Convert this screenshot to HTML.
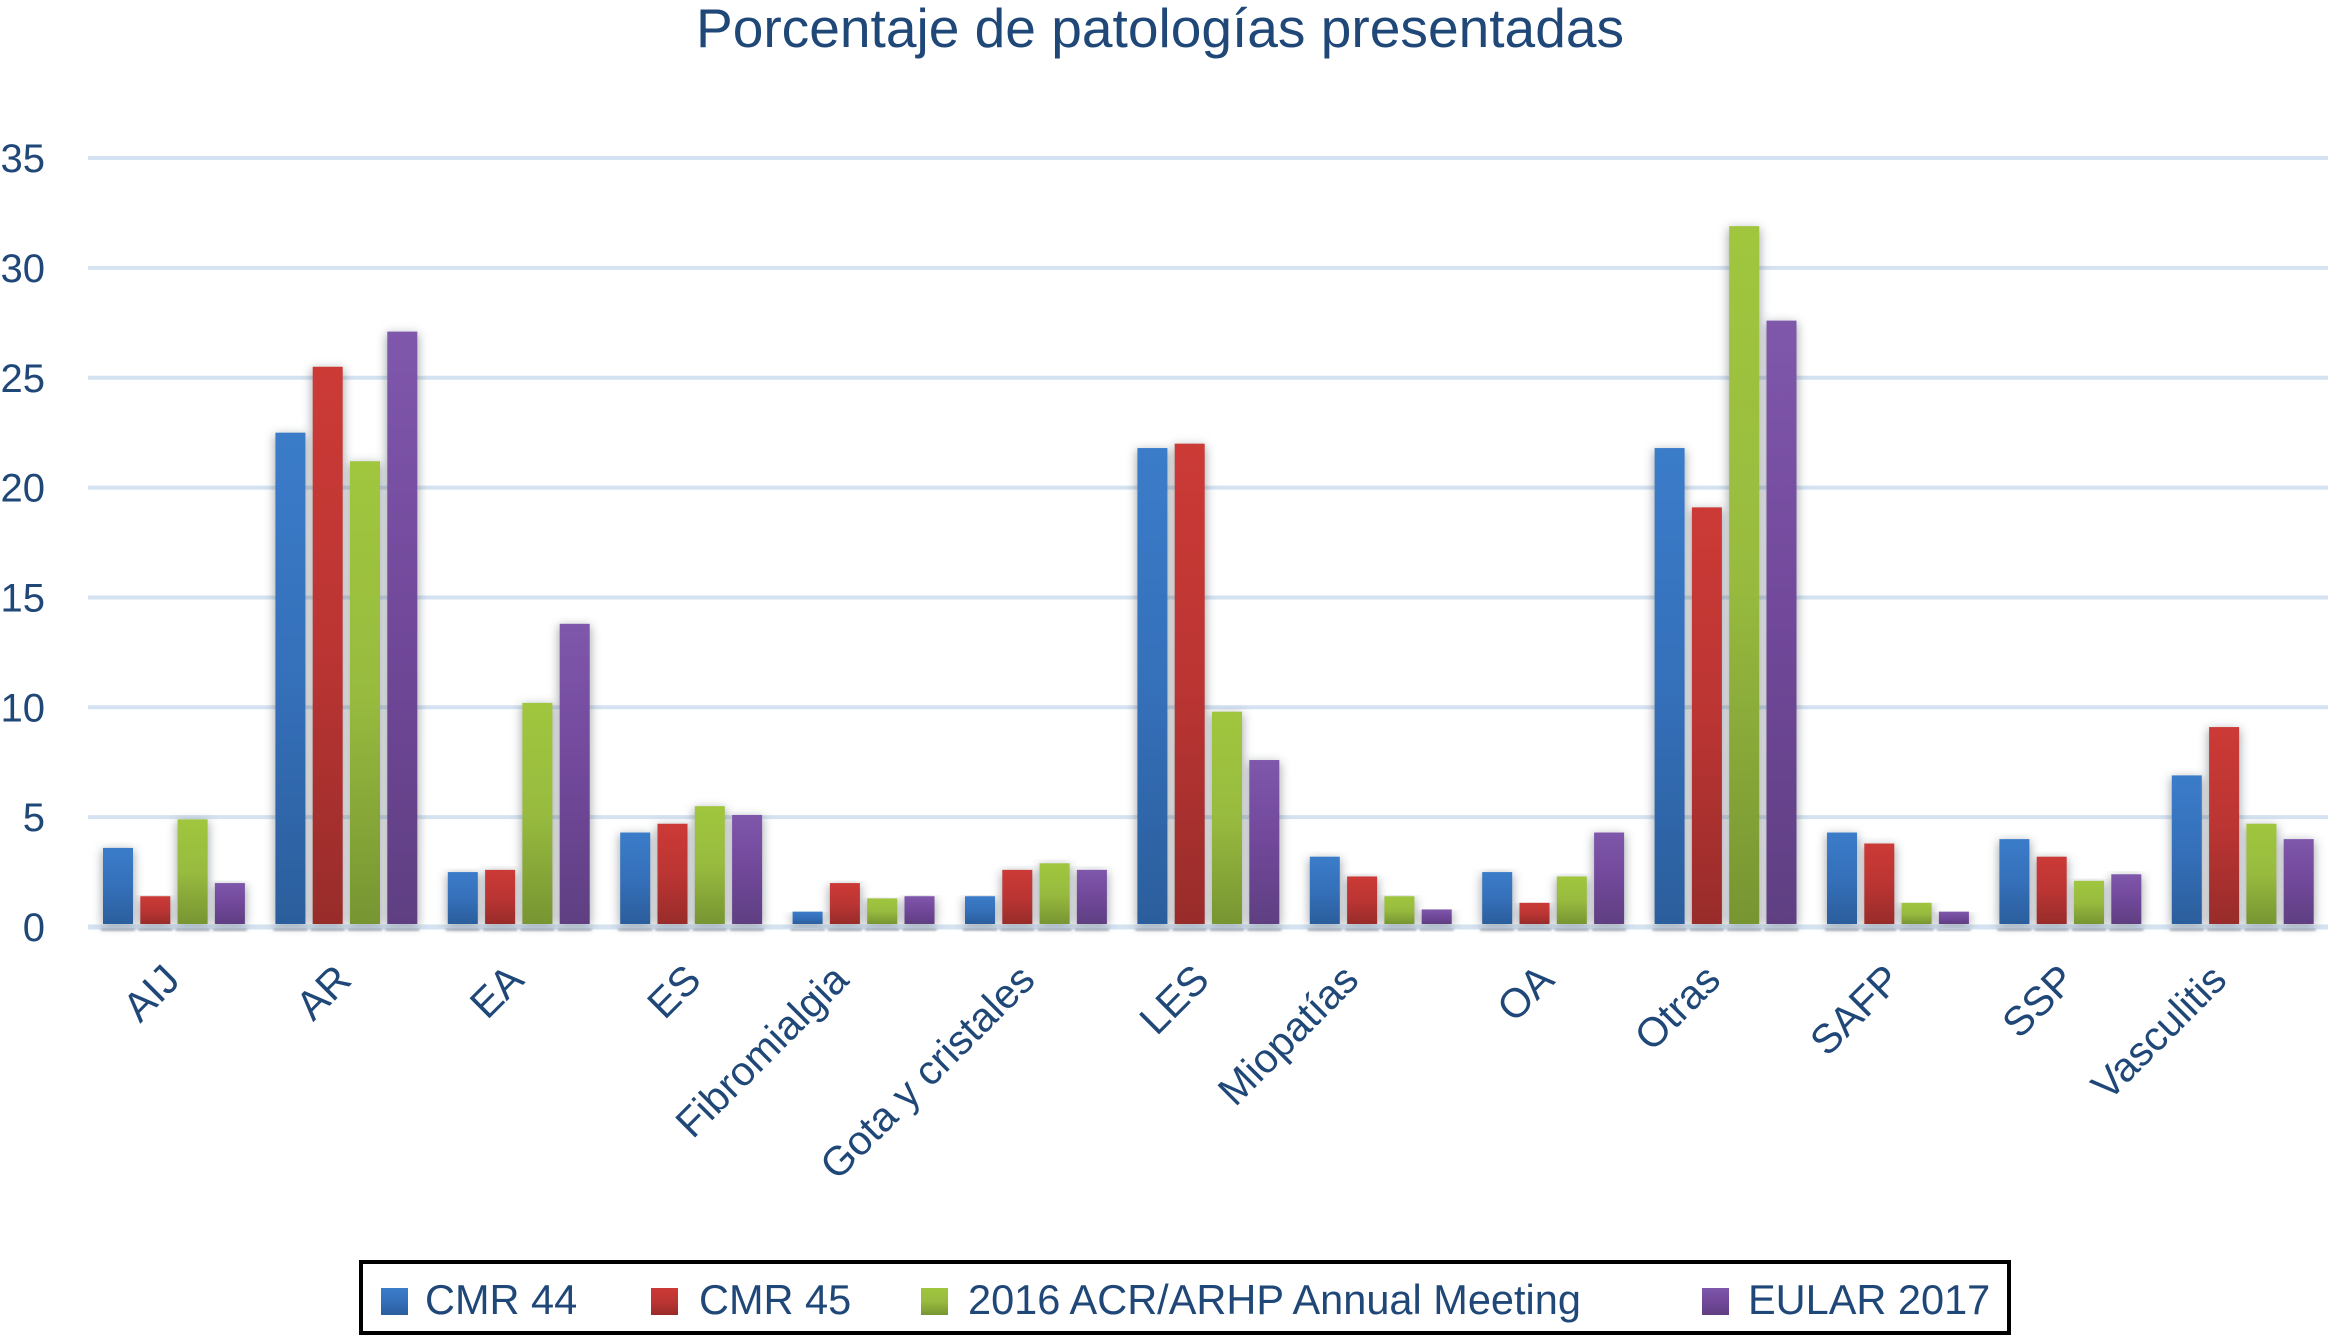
<!DOCTYPE html>
<html lang="es">
<head>
<meta charset="utf-8">
<title>Porcentaje de patologías presentadas</title>
<style>
html,body{margin:0;padding:0;background:#fff;width:2328px;height:1336px;overflow:hidden}
svg{display:block}
text{font-family:"Liberation Sans",sans-serif;fill:#1f4777}
</style>
</head>
<body>
<svg id="chart" xmlns="http://www.w3.org/2000/svg" width="2328" height="1336" viewBox="0 0 2328 1336">
  <defs>
    <linearGradient id="g0" x1="0" y1="0" x2="0" y2="1"><stop offset="0" stop-color="#3b7cc9"/><stop offset="0.5" stop-color="#3570ba"/><stop offset="1" stop-color="#2b5e9c"/></linearGradient>
    <linearGradient id="g1" x1="0" y1="0" x2="0" y2="1"><stop offset="0" stop-color="#cc3a36"/><stop offset="0.5" stop-color="#bb3533"/><stop offset="1" stop-color="#982c2a"/></linearGradient>
    <linearGradient id="g2" x1="0" y1="0" x2="0" y2="1"><stop offset="0" stop-color="#a0c63e"/><stop offset="0.5" stop-color="#98bb3f"/><stop offset="1" stop-color="#779532"/></linearGradient>
    <linearGradient id="g3" x1="0" y1="0" x2="0" y2="1"><stop offset="0" stop-color="#7f57ab"/><stop offset="0.5" stop-color="#71489a"/><stop offset="1" stop-color="#5f3f82"/></linearGradient>
    <filter id="barShadow" x="-60%" y="-10%" width="220%" height="125%"><feGaussianBlur stdDeviation="5"/></filter>
    <filter id="baseBlur" x="-10%" y="-100%" width="120%" height="300%"><feGaussianBlur stdDeviation="1"/></filter>
  </defs>
  <text x="1160" y="47" font-size="55.1" text-anchor="middle">Porcentaje de patologías presentadas</text>
  <g id="grid"></g>
  <g id="yticks"></g>
  <g id="reflections"></g>
  <g id="shadows"></g>
  <g id="bars"></g>
  <g id="xticks"></g>
  <g id="legend">
    <rect x="361" y="1262" width="1648" height="71" fill="#fff" stroke="#000" stroke-width="4"/>
  </g>
</svg>
<script>
const categories = ["AIJ","AR","EA","ES","Fibromialgia","Gota y cristales","LES","Miopatías","OA","Otras","SAFP","SSP","Vasculitis"];
const seriesNames = ["CMR 44","CMR 45","2016 ACR/ARHP Annual Meeting","EULAR 2017"];
const cmr44 = [3.6,22.5,2.5,4.3,0.7,1.4,21.8,3.2,2.5,21.8,4.3,4.0,6.9];
const cmr45 = [1.4,25.5,2.6,4.7,2.0,2.6,22.0,2.3,1.1,19.1,3.8,3.2,9.1];
const acr2016 = [4.9,21.2,10.2,5.5,1.3,2.9,9.8,1.4,2.3,31.9,1.1,2.1,4.7];
const eular2017 = [2.0,27.1,13.8,5.1,1.4,2.6,7.6,0.8,4.3,27.6,0.7,2.4,4.0];
const yTicks = [0,5,10,15,20,25,30,35];

const NS = "http://www.w3.org/2000/svg";
const allSeries = [cmr44, cmr45, acr2016, eular2017];
const seriesSlugs = ["cmr-44","cmr-45","acr-2016","eular-2017"];
const labelNudge = {"AIJ":-7,"AR":-8,"EA":-8,"ES":-3,"Fibromialgia":-28,"Gota y cristales":-14,"LES":-12,"Miopatías":-35,"OA":-12,"Otras":-18,"SAFP":-10,"SSP":-8,"Vasculitis":-29};
function yScale(v){ return 927 - v * 21.97; }
function groupX(i){ return 88 + i * 172.4; }
function barX(i,s){ return groupX(i) + 15 + s * 37.3; }
function make(tag, attrs, parent, text){
  const el = document.createElementNS(NS, tag);
  for (const k in attrs) el.setAttribute(k, attrs[k]);
  if (text !== undefined) el.textContent = text;
  parent.appendChild(el);
  return el;
}
const grid = document.getElementById("grid");
const yticks = document.getElementById("yticks");
yTicks.forEach(function(t){
  const line = make("line", {x1:88, x2:2328, y1:yScale(t), y2:yScale(t), stroke:"#d4e2f1", "stroke-width": t === 0 ? 5 : 4}, grid);
  
  
  const lab = make("text", {x:45, y:yScale(t) + 14, "font-size":40, "text-anchor":"end"}, yticks, String(t));
  
  
});
const bars = document.getElementById("bars");
const shadows = document.getElementById("shadows");
const refl = document.getElementById("reflections");
const baseY = yScale(0) - 3;
allSeries.forEach(function(vals, s){
  vals.forEach(function(v, i){
    const top = yScale(v);
    const h = Math.max(baseY - top, 0);
    const sh = make("rect", {x:barX(i,s) - 1, y:top + 2, width:32, height:h, fill:"#4e5660", opacity:0.5, filter:"url(#barShadow)"}, shadows);
    
    
    const bar = make("rect", {x:barX(i,s), y:top, width:30, height:h, fill:"url(#g" + s + ")"}, bars);
    
    
    const r = make("rect", {x:barX(i,s) - 2, y:yScale(0) + 2, width:34, height:1.6, fill:"#8d97a6", filter:"url(#baseBlur)"}, refl);
    
    
  });
});
const xticks = document.getElementById("xticks");
categories.forEach(function(c, i){
  const ax = groupX(i) + 101 + labelNudge[c];
  const ay = 982;
  const lab = make("text", {x:ax, y:ay, "font-size":41, "text-anchor":"end", transform:"rotate(-45 " + ax + " " + ay + ")"}, xticks, c);
  
  
});
const legendSwatchX = [381, 651, 921, 1702];
const legendTextX = [425, 699, 968, 1748];
const legend = document.getElementById("legend");
seriesNames.forEach(function(n, s){
  const sw = make("rect", {x:legendSwatchX[s], y:1288, width:27, height:27, fill:"url(#g" + s + ")"}, legend);
  
  
  const tx = make("text", {x:legendTextX[s], y:1314, "font-size":41.5}, legend, n);
  
  
});
</script>
</body>
</html>
